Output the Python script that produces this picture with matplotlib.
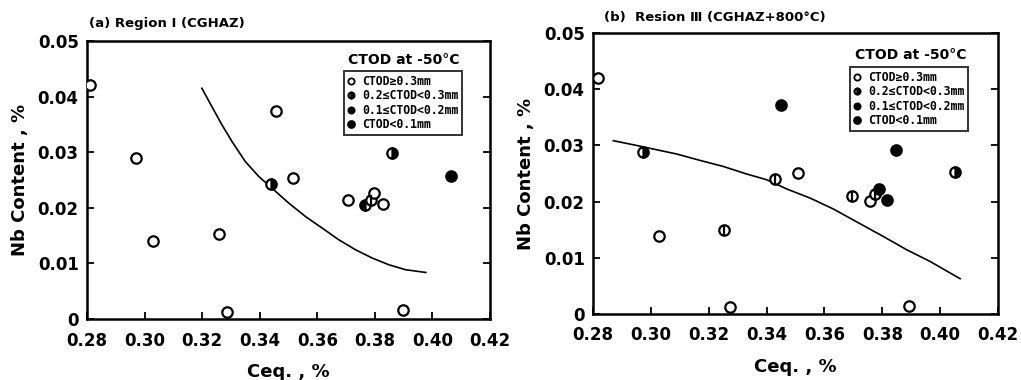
import matplotlib
matplotlib.use("Agg")
import matplotlib.pyplot as plt
from matplotlib.lines import Line2D

plt.rcParams["font.family"] = ["DejaVu Sans", "Noto Sans CJK JP"]

# Panel (a): Region I (CGHAZ)
a_ceq = [0.2812, 0.2971, 0.3030, 0.3258, 0.3285, 0.3438, 0.3456, 0.3516,
         0.3708, 0.3767, 0.3785, 0.3796, 0.3830, 0.3859, 0.4065, 0.3899]
a_nb = [0.0421, 0.0289, 0.0141, 0.0152, 0.0013, 0.0243, 0.0374, 0.0253,
        0.0214, 0.0205, 0.0214, 0.0226, 0.0207, 0.0298, 0.0258, 0.0017]
a_kind = ["open", "open", "open", "open", "open", "half_r", "open", "open",
          "open", "half_l", "vline", "open", "open", "half_r", "filled", "open"]
a_curve_x = [0.3199, 0.3234, 0.3269, 0.3304, 0.3350, 0.3397, 0.3449, 0.3501,
             0.3559, 0.3617, 0.3675, 0.3733, 0.3791, 0.3849, 0.3907, 0.3977]
a_curve_y = [0.04149, 0.03819, 0.0349, 0.0319, 0.02831, 0.02562, 0.02323, 0.02084,
             0.01843, 0.01635, 0.01424, 0.01245, 0.01096, 0.00975, 0.00886, 0.00837]

# Panel (b): Region III (CGHAZ+800C)
b_ceq = [0.2817, 0.2973, 0.3027, 0.3253, 0.3275, 0.3428, 0.3451, 0.3510,
         0.3695, 0.3756, 0.3776, 0.3788, 0.3818, 0.3848, 0.4052, 0.3894]
b_nb = [0.0420, 0.0289, 0.0139, 0.0150, 0.0013, 0.0240, 0.0371, 0.0251,
        0.0210, 0.0201, 0.0214, 0.0222, 0.0202, 0.0292, 0.0252, 0.0014]
b_kind = ["open", "half_r", "open", "vline", "open", "vline", "filled", "open",
          "vline", "open", "vline", "filled", "filled", "filled", "half_r", "open"]
b_curve_x = [0.2870, 0.2939, 0.3008, 0.3089, 0.3170, 0.3250, 0.3331, 0.3400,
             0.3470, 0.3550, 0.3631, 0.3723, 0.3803, 0.3884, 0.3965, 0.4069]
b_curve_y = [0.03084, 0.03012, 0.02936, 0.02847, 0.02733, 0.02626, 0.02491, 0.0239,
             0.02224, 0.02064, 0.01868, 0.01607, 0.01381, 0.01144, 0.00936, 0.00628]

x_ticks = [0.28, 0.30, 0.32, 0.34, 0.36, 0.38, 0.40, 0.42]
x_tick_labels = ["0.28", "0.30", "0.32", "0.34", "0.36", "0.38", "0.40", "0.42"]
y_ticks = [0, 0.01, 0.02, 0.03, 0.04, 0.05]
y_tick_labels = ["0", "0.01", "0.02", "0.03", "0.04", "0.05"]

legend_labels = ["CTOD≥0.3mm", "0.2≤CTOD<0.3mm", "0.1≤CTOD<0.2mm", "CTOD<0.1mm"]

MS = 7.5
MEW = 1.6


def draw_point(ax, x, y, kind):
    if kind == "filled":
        ax.plot(x, y, "o", ms=MS, mfc="black", mec="black", mew=MEW, zorder=4)
    elif kind in ("half_r", "half_l"):
        side = "right" if kind == "half_r" else "left"
        ax.plot(x, y, "o", ms=MS, fillstyle=side, mfc="black", mfcalt="white",
                mec="black", mew=MEW, zorder=4)
    else:
        ax.plot(x, y, "o", ms=MS, mfc="white", mec="black", mew=MEW, zorder=4)
        if kind == "vline":
            ax.plot(x, y, "|", ms=MS - 1, mec="black", mew=MEW, zorder=5)


def draw_panel(ax, ceq, nb, kinds, cx, cy, title, title_xy, leg_anchor, head_xy):
    ax.plot(cx, cy, color="black", lw=1.2, zorder=2)
    for x, y, k in zip(ceq, nb, kinds):
        draw_point(ax, x, y, k)

    ax.set_xlim(0.28, 0.42)
    ax.set_ylim(0, 0.05)
    ax.set_xticks(x_ticks)
    ax.set_xticklabels(x_tick_labels)
    ax.set_yticks(y_ticks)
    ax.set_yticklabels(y_tick_labels)
    ax.tick_params(direction="in", length=5, width=1.3, right=True, labelsize=12)
    ax.tick_params(axis="x", pad=9)
    ax.tick_params(axis="y", pad=6)
    for lab in ax.get_xticklabels() + ax.get_yticklabels():
        lab.set_fontweight("bold")
    for sp in ax.spines.values():
        sp.set_linewidth(1.8)

    ax.set_xlabel("Ceq. , %", fontsize=13, fontweight="bold", labelpad=10)
    ax.set_ylabel("Nb Content , %", fontsize=13, fontweight="bold", labelpad=6)

    fig.text(title_xy[0], title_xy[1], title, fontsize=9.5, fontweight="bold",
             va="center", ha="left", family=["DejaVu Sans", "Noto Sans CJK JP"])
    fig.text(head_xy[0], head_xy[1], "CTOD at -50°C", fontsize=10,
             fontweight="bold", va="center", ha="center")

    handles = [
        Line2D([], [], ls="", marker="o", ms=4.5, mfc="white", mec="black", mew=1.3),
        Line2D([], [], ls="", marker="o", ms=4.5, fillstyle="right", mfc="black",
               mfcalt="dimgray", mec="black", mew=1.3),
        Line2D([], [], ls="", marker="o", ms=4.5, mfc="black", mec="black", mew=1.3),
        Line2D([], [], ls="", marker="o", ms=5, mfc="black", mec="black", mew=1.3),
    ]
    leg = ax.legend(handles, legend_labels, loc="upper left",
                    bbox_to_anchor=leg_anchor, bbox_transform=fig.transFigure,
                    prop={"family": "DejaVu Sans Mono", "weight": "bold", "size": 8.3},
                    frameon=True, fancybox=False, edgecolor="black",
                    handlelength=0.6, handletextpad=0.6, borderpad=0.35,
                    labelspacing=0.12, borderaxespad=0)
    leg.get_frame().set_linewidth(1.4)


fig = plt.figure(figsize=(10.21, 3.8), dpi=100)
ax1 = fig.add_axes([87 / 1021, 1 - 319 / 380, 403 / 1021, 278 / 380])
ax2 = fig.add_axes([593 / 1021, 1 - 314 / 380, 405 / 1021, 281 / 380])

draw_panel(ax1, a_ceq, a_nb, a_kind, a_curve_x, a_curve_y,
           "(a) Region Ⅰ (CGHAZ)", (89 / 1021, 1 - 24 / 380),
           (344 / 1021, 1 - 71 / 380), (404 / 1021, 1 - 60 / 380))
draw_panel(ax2, b_ceq, b_nb, b_kind, b_curve_x, b_curve_y,
           "(b)  Resion Ⅲ (CGHAZ+800°C)", (604 / 1021, 1 - 18 / 380),
           (850 / 1021, 1 - 67 / 380), (911 / 1021, 1 - 55 / 380))

fig.savefig("out.png", dpi=100, facecolor="white")
